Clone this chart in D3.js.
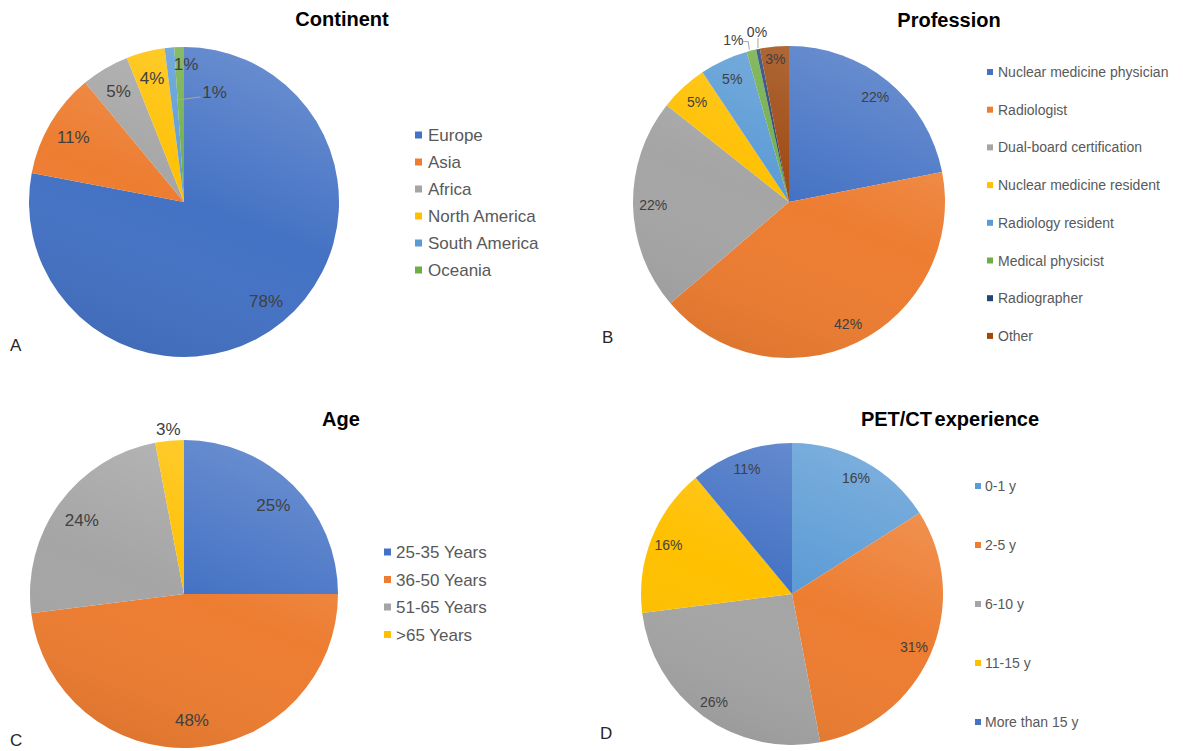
<!DOCTYPE html>
<html>
<head>
<meta charset="utf-8">
<script src="https://cdn.jsdelivr.net/npm/d3@7"></script>
<style>
  body { margin: 0; background: #fff; }
  svg { display: block; font-family: "Liberation Sans", Arial, Helvetica, sans-serif; }
</style>
</head>
<body>
<svg id="chart" width="1183" height="751"></svg>
<script>
// Survey respondent breakdowns (percent of respondents)
const continentNames = ["Europe", "Asia", "Africa", "North America", "South America", "Oceania"];
const continentValues = [78, 11, 5, 4, 1, 1];

const professionNames = ["Nuclear medicine physician", "Radiologist", "Dual-board certification",
  "Nuclear medicine resident", "Radiology resident", "Medical physicist", "Radiographer", "Other"];
const professionValues = [22, 42, 22, 5, 5, 1, 0.4, 3];

const ageNames = ["25-35 Years", "36-50 Years", "51-65 Years", ">65 Years"];
const ageValues = [25, 48, 24, 3];

const experienceNames = ["0-1 y", "2-5 y", "6-10 y", "11-15 y", "More than 15 y"];
const experienceValues = [16, 31, 26, 16, 11];

// Office palette
const C = {
  blue: "#4472C4", orange: "#ED7D31", gray: "#A5A5A5", yellow: "#FFC000",
  lightBlue: "#5B9BD5", green: "#70AD47", navy: "#264478", brown: "#9E480E"
};

const svg = d3.select("#chart");
const defs = svg.append("defs");

// soft sheen laid over each pie
const sheen = defs.append("linearGradient").attr("id", "sheen")
  .attr("x1", 0.7).attr("y1", 0).attr("x2", 0.3).attr("y2", 1);
sheen.append("stop").attr("offset", 0).attr("stop-color", "#fff").attr("stop-opacity", 0.2);
sheen.append("stop").attr("offset", 0.5).attr("stop-color", "#fff").attr("stop-opacity", 0);
sheen.append("stop").attr("offset", 1).attr("stop-color", "#000").attr("stop-opacity", 0.07);

function drawPanel(cfg) {
  const g = svg.append("g");
  const total = d3.sum(cfg.values);
  const color = d3.scaleOrdinal().domain(cfg.names).range(cfg.colors);
  const pie = d3.pie().sort(null).value(d => d.value);
  const arcs = pie(cfg.names.map((n, i) => ({ name: n, value: cfg.values[i] })));
  const arc = d3.arc().innerRadius(0).outerRadius(cfg.r);

  const pg = g.append("g").attr("transform", `translate(${cfg.cx},${cfg.cy})`);
  pg.selectAll("path.slice").data(arcs).join("path")
    .attr("class", "slice")
    .attr("d", arc)
    .attr("fill", d => color(d.data.name));
  pg.append("circle").attr("r", cfg.r).attr("fill", "url(#sheen)").attr("pointer-events", "none");

  // percentage labels
  const fmt = v => Math.round(v / total * 100) + "%";
  arcs.forEach((d, i) => {
    const adj = (cfg.adjust && cfg.adjust[i]) || {};
    const k = adj.k || cfg.labelK;
    const mid = (d.startAngle + d.endAngle) / 2;
    let x, y;
    if (adj.leader) {
      const ang = adj.atEnd ? d.endAngle : mid;
      const ar = cfg.r * adj.anchorK;
      const ax = Math.sin(ang) * ar, ay = -Math.cos(ang) * ar;
      pg.append("polyline")
        .attr("points", adj.leader.map(p => [ax + p[0], ay + p[1]].join(",")).join(" "))
        .attr("fill", "none").attr("stroke", "#A6A6A6").attr("stroke-width", 1);
      x = ax + adj.dx; y = ay + adj.dy;
    } else {
      const rr = cfg.r * k;
      x = Math.sin(mid) * rr + (adj.dx || 0);
      y = -Math.cos(mid) * rr + (adj.dy || 0);
    }
    pg.append("text")
      .attr("x", x).attr("y", y).attr("dy", "0.36em")
      .attr("text-anchor", "middle")
      .attr("font-size", cfg.labelSize)
      .attr("fill", "#404040")
      .text(fmt(d.data.value));
  });

  // title
  g.append("text").attr("x", cfg.titleX).attr("y", cfg.titleY)
    .attr("text-anchor", "middle").attr("font-weight", "bold")
    .attr("font-size", 20).attr("fill", "#000")
    .attr("word-spacing", cfg.titleWordSpacing || 0)
    .text(cfg.title);

  // legend
  const lg = g.append("g").attr("transform", `translate(${cfg.legendX},${cfg.legendY})`);
  const rows = lg.selectAll("g").data(cfg.names).join("g")
    .attr("transform", (d, i) => `translate(0,${i * cfg.legendStep})`);
  rows.append("rect")
    .attr("x", 0).attr("y", -cfg.swatch / 2)
    .attr("width", cfg.swatch).attr("height", cfg.swatch)
    .attr("fill", d => color(d));
  rows.append("text")
    .attr("x", cfg.swatch + cfg.textGap).attr("dy", "0.36em")
    .attr("font-size", cfg.legendSize).attr("fill", "#595959")
    .text(d => d);

  // panel letter
  g.append("text").attr("x", cfg.letterX).attr("y", cfg.letterY).attr("dy", "0.36em")
    .attr("font-size", 17).attr("fill", "#262626").text(cfg.letter);
}

drawPanel({
  title: "Continent", titleX: 342, titleY: 26,
  names: continentNames, values: continentValues,
  colors: [C.blue, C.orange, C.gray, C.yellow, C.lightBlue, C.green],
  cx: 184, cy: 202, r: 155, labelK: 0.83, labelSize: 17,
  adjust: {
    4: { leader: [[1, 0], [23, -3]], anchorK: 0.66, atEnd: true, dx: 37, dy: -8 },
    5: { dx: 6, dy: -10 }
  },
  legendX: 415, legendY: 135, legendStep: 27, swatch: 7, textGap: 6, legendSize: 17,
  letter: "A", letterX: 10, letterY: 345
});

drawPanel({
  title: "Profession", titleX: 949, titleY: 27,
  names: professionNames, values: professionValues,
  colors: [C.blue, C.orange, C.gray, C.yellow, C.lightBlue, C.green, C.navy, C.brown],
  cx: 789, cy: 202, r: 156, labelK: 0.87, labelSize: 14,
  adjust: {
    5: { leader: [[-2, -1], [-3, -9], [-8, -9]], anchorK: 1, dx: -18, dy: -11 },
    6: { leader: [[0, -1], [0, -11]], anchorK: 1, dx: -1, dy: -17 },
    7: { dx: -1, dy: -8 }
  },
  legendX: 987, legendY: 72, legendStep: 37.7, swatch: 6, textGap: 5, legendSize: 14,
  letter: "B", letterX: 602, letterY: 337
});

drawPanel({
  title: "Age", titleX: 341, titleY: 426,
  names: ageNames, values: ageValues,
  colors: [C.blue, C.orange, C.gray, C.yellow],
  cx: 184, cy: 594, r: 154, labelK: 0.82, labelSize: 17,
  adjust: { 3: { k: 1.08 } },
  legendX: 384, legendY: 552, legendStep: 27.5, swatch: 7, textGap: 5, legendSize: 17,
  letter: "C", letterX: 10, letterY: 740
});

drawPanel({
  title: "PET/CT experience", titleX: 950, titleY: 426, titleWordSpacing: -3,
  names: experienceNames, values: experienceValues,
  colors: [C.lightBlue, C.orange, C.gray, C.yellow, C.blue],
  cx: 792, cy: 594, r: 151, labelK: 0.88, labelSize: 14,
  legendX: 975, legendY: 486, legendStep: 59, swatch: 6, textGap: 4, legendSize: 14,
  letter: "D", letterX: 600, letterY: 733
});
</script>
</body>
</html>
